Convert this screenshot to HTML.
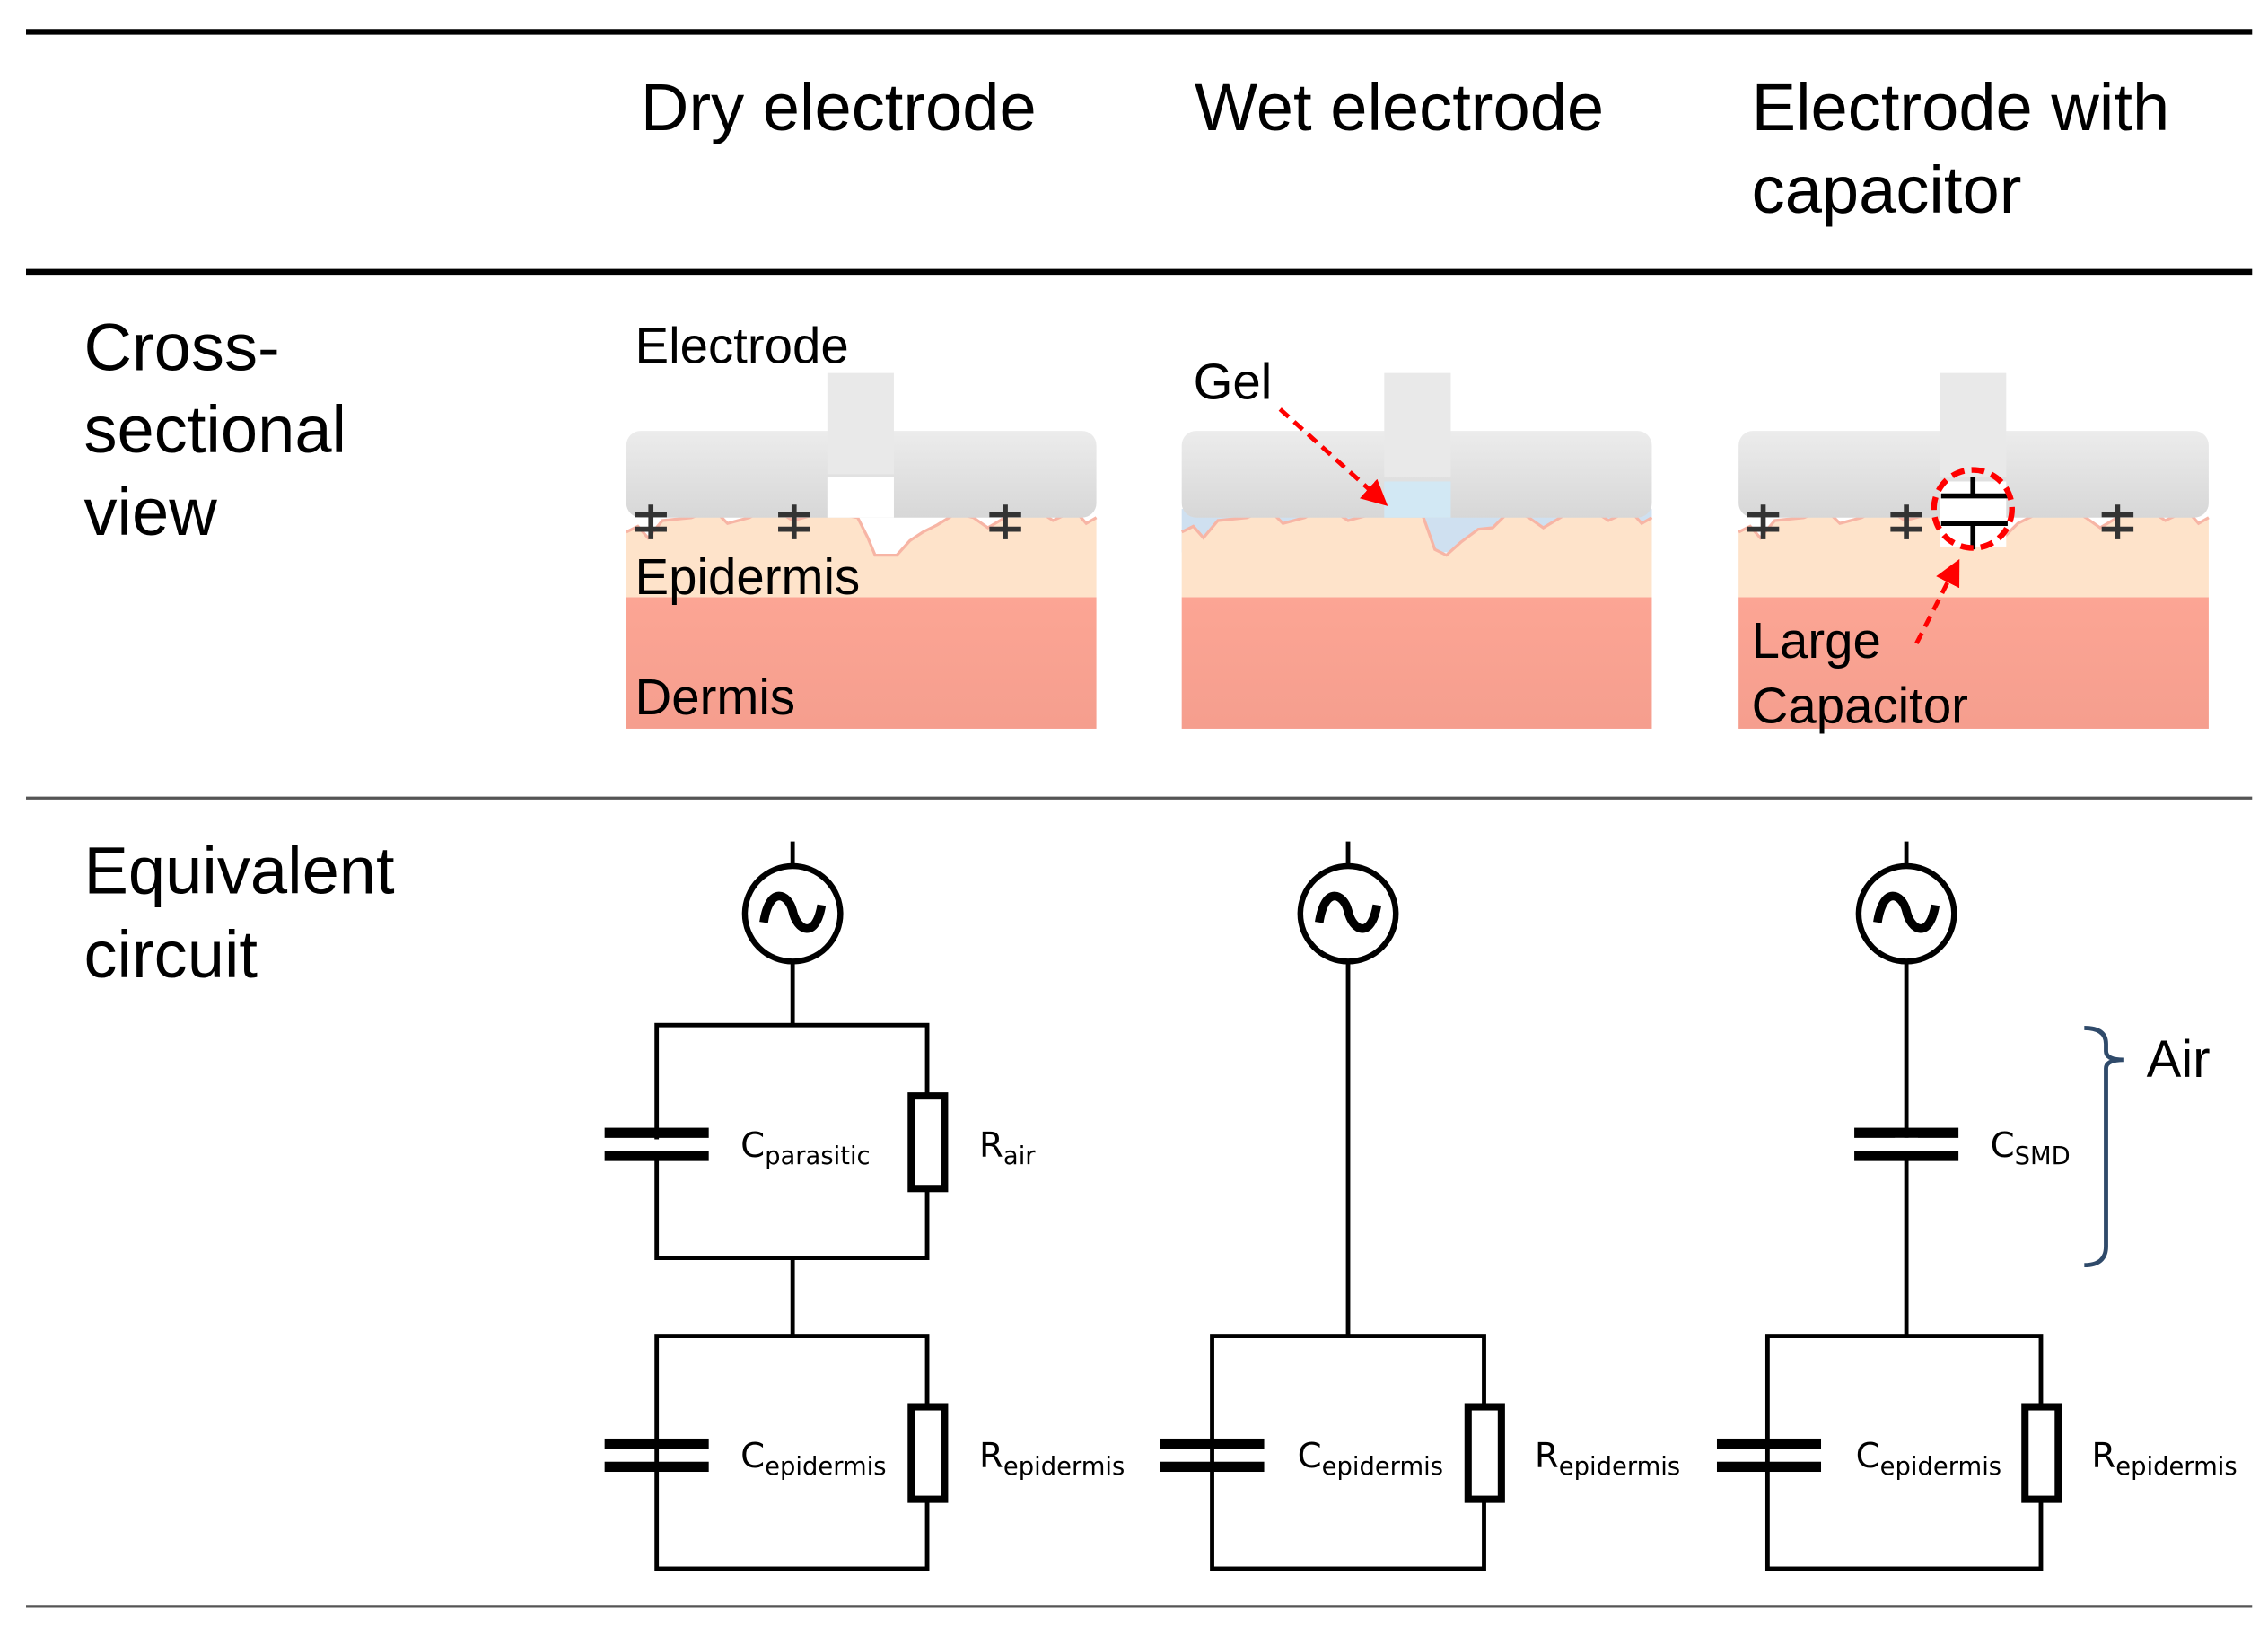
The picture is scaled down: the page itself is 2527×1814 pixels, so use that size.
<!DOCTYPE html>
<html><head><meta charset="utf-8"><style>
html,body{margin:0;padding:0;background:#fff;}
svg{display:block;}
text{font-family:"Liberation Sans",sans-serif;fill:#000;}
.s{font-family:"DejaVu Sans","Liberation Sans",sans-serif;}
</style></head><body>
<svg width="2527" height="1814" viewBox="0 0 1568 1126" preserveAspectRatio="none" xmlns="http://www.w3.org/2000/svg">
<defs>
<linearGradient id="gb" x1="0" y1="0" x2="0" y2="1"><stop offset="0" stop-color="#ececec"/><stop offset="1" stop-color="#d7d7d7"/></linearGradient>
<linearGradient id="gd" x1="0" y1="0" x2="0" y2="1"><stop offset="0" stop-color="#fca594"/><stop offset="1" stop-color="#f59e8e"/></linearGradient>
<path id="skinTop" d="M0,368 L8,364 L15,372 L25,360 L45,358 L60,352 L70,362 L85,358 L100,350 L115,360 L130,356 L140,348 L150,356 L165,352 L175,370 L183,372 L193,362 L205,356 L215,353 L228,350 L240,358 L250,365 L265,356 L280,350 L295,360 L310,353 L318,362 L325,358"/>
<path id="skin" d="M0,413 L0,368 L8,364 L15,372 L25,360 L45,358 L60,352 L70,362 L85,358 L100,350 L115,360 L130,356 L140,348 L150,356 L165,352 L175,370 L183,372 L193,362 L205,356 L215,353 L228,350 L240,358 L250,365 L265,356 L280,350 L295,360 L310,353 L318,362 L325,358 L325,413 Z"/>
<path id="dryTop" d="M0,368 L8,364 L15,372 L25,360 L45,358 L60,352 L70,362 L85,358 L100,350 L115,360 L130,356 L140,348 L150,356 L160,358 L167,372 L172,384 L187,384 L196,374 L205,368 L215,363 L228,355 L240,358 L250,365 L265,356 L280,350 L295,360 L310,353 L318,362 L325,358"/>
<g id="cs" stroke="#333" stroke-width="3.5" fill="none"><line x1="0" y1="-12" x2="0" y2="12"/><line x1="-11" y1="-5" x2="11" y2="-5"/><line x1="-11" y1="5" x2="11" y2="5"/></g>
<marker id="ah" markerWidth="6" markerHeight="6" refX="4" refY="3" orient="auto" markerUnits="strokeWidth"><path d="M0,0 L6,3 L0,6 Z" fill="#f00"/></marker>
</defs>

<line x1="18" y1="22" x2="1557" y2="22" stroke="#000" stroke-width="4"/>
<line x1="18" y1="188" x2="1557" y2="188" stroke="#000" stroke-width="4"/>
<line x1="18" y1="552" x2="1557" y2="552" stroke="#555" stroke-width="2"/>
<line x1="18" y1="1111" x2="1557" y2="1111" stroke="#555" stroke-width="2"/>

<g font-size="46">
<text x="443" y="90">Dry electrode</text>
<text x="826" y="90">Wet electrode</text>
<text x="1211" y="90">Electrode with</text>
<text x="1211" y="147">capacitor</text>
<text x="58" y="256">Cross-</text>
<text x="58" y="313">sectional</text>
<text x="58" y="370">view</text>
<text x="58" y="618">Equivalent</text>
<text x="58" y="676">circuit</text>
</g>

<!-- Dry panel -->
<g transform="translate(433,0)">
<rect x="0" y="413" width="325" height="91" fill="url(#gd)"/>
<path d="M0,413 L0,368 L8,364 L15,372 L25,360 L45,358 L60,352 L70,362 L85,358 L100,350 L115,360 L130,356 L140,348 L150,356 L160,358 L167,372 L172,384 L187,384 L196,374 L205,368 L215,363 L228,355 L240,358 L250,365 L265,356 L280,350 L295,360 L310,353 L318,362 L325,358 L325,413 Z" fill="#fee3ca"/>
<use href="#dryTop" fill="none" stroke="#f7b5a5" stroke-width="2"/>
<rect x="0" y="298" width="325" height="60" rx="10" fill="url(#gb)"/>
<rect x="139" y="258" width="46" height="70" fill="#e9e9e9"/>
<rect x="139" y="330" width="46" height="28" fill="#fff"/>
<use href="#cs" x="17" y="361"/><use href="#cs" x="116" y="361"/><use href="#cs" x="262" y="361"/>
</g>
<text x="439" y="251" font-size="35">Electrode</text>
<text x="439" y="411" font-size="35">Epidermis</text>
<text x="439" y="494" font-size="35">Dermis</text>

<!-- Wet panel -->
<g transform="translate(817,0)">
<rect x="0" y="413" width="325" height="91" fill="url(#gd)"/>
<rect x="0" y="352" width="325" height="30" fill="#cfe0f0"/>
<path d="M0,413 L0,368 L8,364 L15,372 L25,360 L45,358 L60,352 L70,362 L85,358 L100,350 L115,360 L130,356 L140,348 L150,356 L165,352 L175,380 L183,384 L193,375 L205,366 L215,365 L228,352 L240,358 L250,365 L265,356 L280,350 L295,360 L310,353 L318,362 L325,358 L325,413 Z" fill="#fee3ca"/>
<path d="M0,368 L8,364 L15,372 L25,360 L45,358 L60,352 L70,362 L85,358 L100,350 L115,360 L130,356 L140,348 L150,356 L165,352 L175,380 L183,384 L193,375 L205,366 L215,365 L228,352 L240,358 L250,365 L265,356 L280,350 L295,360 L310,353 L318,362 L325,358" fill="none" stroke="#f7b5a5" stroke-width="2"/>
<rect x="0" y="298" width="325" height="60" rx="10" fill="url(#gb)"/>
<rect x="140" y="258" width="46" height="72" fill="#e9e9e9"/>
<rect x="140" y="333" width="46" height="25" fill="#d2e8f4"/>
</g>
<text x="825" y="276" font-size="35">Gel</text>
<line x1="885" y1="283" x2="955" y2="346" stroke="#f00" stroke-width="3" stroke-dasharray="8,5" marker-end="url(#ah)"/>

<!-- Cap panel -->
<g transform="translate(1202,0)">
<rect x="0" y="413" width="325" height="91" fill="url(#gd)"/>
<use href="#skin" fill="#fee3ca"/>
<use href="#skinTop" fill="none" stroke="#f7b5a5" stroke-width="2"/>
<rect x="0" y="298" width="325" height="60" rx="10" fill="url(#gb)"/>
<rect x="139" y="258" width="46" height="72" fill="#e9e9e9"/>
<rect x="139" y="333" width="46" height="45" fill="#fff"/>
<use href="#cs" x="17" y="361"/><use href="#cs" x="116" y="361"/><use href="#cs" x="262" y="361"/>
<g stroke="#000" stroke-width="3.5"><line x1="162" y1="330" x2="162" y2="343"/><line x1="140" y1="343" x2="186" y2="343"/><line x1="140" y1="362" x2="186" y2="362"/><line x1="162" y1="362" x2="162" y2="380"/></g>
<circle cx="162" cy="352" r="27" fill="none" stroke="#f00" stroke-width="4" stroke-dasharray="9,5"/>
</g>
<line x1="1325" y1="445" x2="1352" y2="392" stroke="#f00" stroke-width="3" stroke-dasharray="8,5" marker-end="url(#ah)"/>
<text x="1211" y="455" font-size="35">Large</text>
<text x="1211" y="500" font-size="35">Capacitor</text>

<g stroke="#000" stroke-width="3" fill="none">
<g id="src"><circle cx="548" cy="632" r="33" stroke-width="4"/><path d="M528,638 C532,612 545,618 548,630 C551,644 564,650 568,626" stroke-width="6"/></g>
<use href="#src" x="384"/><use href="#src" x="770"/>
<line x1="548" y1="582" x2="548" y2="599"/><line x1="932" y1="582" x2="932" y2="599"/><line x1="1318" y1="582" x2="1318" y2="599"/>
<line x1="548" y1="665" x2="548" y2="709"/>
<rect x="454" y="709" width="187" height="161"/>
<line x1="548" y1="870" x2="548" y2="924"/>
<rect x="454" y="924" width="187" height="161"/>
<line x1="932" y1="665" x2="932" y2="924"/>
<rect x="838" y="924" width="188" height="161"/>
<line x1="1318" y1="665" x2="1318" y2="924"/>
<rect x="1222" y="924" width="189" height="161"/>
</g>
<g fill="#000">
<rect x="418" y="780" width="72" height="7"/><rect x="418" y="796" width="72" height="7"/>
<rect x="418" y="995" width="72" height="7"/><rect x="418" y="1011" width="72" height="7"/>
<rect x="802" y="995" width="72" height="7"/><rect x="802" y="1011" width="72" height="7"/>
<rect x="1187" y="995" width="72" height="7"/><rect x="1187" y="1011" width="72" height="7"/>
<rect x="1282" y="780" width="72" height="7"/><rect x="1282" y="796" width="72" height="7"/>
</g>
<rect x="452" y="788" width="4" height="8" fill="#fff"/>
<rect x="1310" y="787" width="16" height="9" fill="#fff"/>
<g fill="#fff" stroke="#000" stroke-width="5">
<rect x="630" y="758" width="23" height="64"/>
<rect x="630" y="973" width="23" height="64"/>
<rect x="1015" y="973" width="23" height="64"/>
<rect x="1400" y="973" width="23" height="64"/>
</g>
<g font-size="24">
<text class="s" x="512" y="800">C<tspan font-size="17" dy="5">parasitic</tspan></text>
<text class="s" x="677" y="800">R<tspan font-size="17" dy="5">air</tspan></text>
<text class="s" x="512" y="1015">C<tspan font-size="17" dy="5">epidermis</tspan></text>
<text class="s" x="677" y="1015">R<tspan font-size="17" dy="5">epidermis</tspan></text>
<text class="s" x="897" y="1015">C<tspan font-size="17" dy="5">epidermis</tspan></text>
<text class="s" x="1061" y="1015">R<tspan font-size="17" dy="5">epidermis</tspan></text>
<text class="s" x="1283" y="1015">C<tspan font-size="17" dy="5">epidermis</tspan></text>
<text class="s" x="1446" y="1015">R<tspan font-size="17" dy="5">epidermis</tspan></text>
<text class="s" x="1376" y="800">C<tspan font-size="17" dy="5">SMD</tspan></text>
</g>
<path d="M1441,711 Q1456,711 1456,722 L1456,727 Q1456,733 1468,733 Q1456,733 1456,739 L1456,862 Q1456,875 1441,875" fill="none" stroke="#2f4a6a" stroke-width="3"/>
<text x="1484" y="745" font-size="36">Air</text>
</svg>
</body></html>
